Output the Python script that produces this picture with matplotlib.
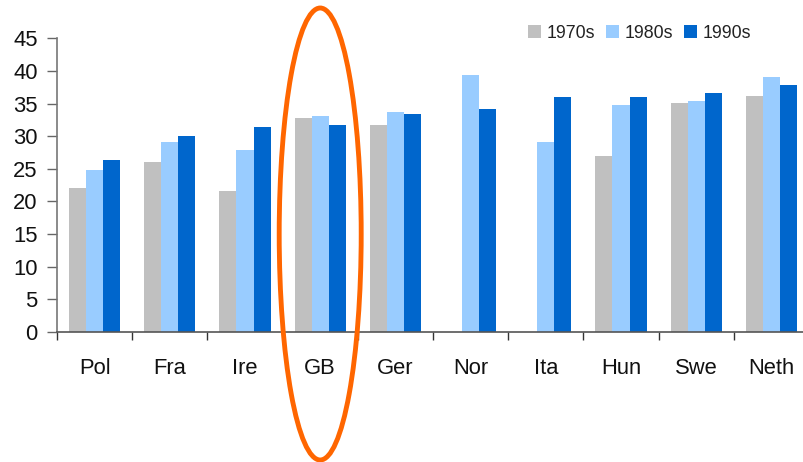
import matplotlib
matplotlib.use("Agg")
import matplotlib.pyplot as plt
import numpy as np
from matplotlib.patches import Ellipse

categories = ["Pol", "Fra", "Ire", "GB", "Ger", "Nor", "Ita", "Hun", "Swe", "Neth"]
series_names = ["1970s", "1980s", "1990s"]
v1970 = [22.1, 26.0, 21.6, 32.8, 31.7, np.nan, np.nan, 27.0, 35.1, 36.2]
v1980 = [24.8, 29.1, 27.9, 33.1, 33.7, 39.4, 29.1, 34.8, 35.4, 39.1]
v1990 = [26.3, 30.0, 31.4, 31.7, 33.4, 34.2, 36.0, 36.0, 36.6, 37.8]
yticks = [0, 5, 10, 15, 20, 25, 30, 35, 40, 45]

colors = ["#C0C0C0", "#99CCFF", "#0066CC"]
plt.rcParams['font.family'] = ['Liberation Sans', 'DejaVu Sans']

fig = plt.figure(figsize=(8.04, 4.62), dpi=100)
ax = fig.add_axes([57/804, 1-332/462, 752/804, (332-38.3)/462])

x = np.arange(len(categories))
w = 0.227
handles = []
for k, (vals, c, name) in enumerate(zip([v1970, v1980, v1990], colors, series_names)):
    b = ax.bar(x + (k-1)*w, vals, width=w, color=c, label=name, linewidth=0)
    handles.append(b)

ax.set_xlim(-0.5, len(categories)-0.5)
ax.set_ylim(0, 45)
ax.set_yticks(yticks)
ax.set_yticklabels([str(t) for t in yticks], fontsize=15.8, color="#111111")
ax.tick_params(axis='y', direction='out', length=7, width=1, color="#666666", pad=7)

ax.set_xticks(x)
ax.set_xticklabels(categories, fontsize=15.8, color="#111111")
ax.tick_params(axis='x', which='major', length=0, pad=19)
ax.set_xticks(np.arange(-0.5, len(categories), 1.0), minor=True)
ax.tick_params(axis='x', which='minor', direction='out', length=6, width=1, color="#333333")

for s in ['top', 'right']:
    ax.spines[s].set_visible(False)
ax.spines['left'].set_color("#777777")
ax.spines['bottom'].set_color("#555555")
ax.spines['left'].set_linewidth(1.2)
ax.spines['bottom'].set_linewidth(1.2)

# Ellipse around GB
gb = categories.index("GB")
px_per_unit = (332-38.3)/45
ell = Ellipse((gb, (332-234)/px_per_unit), width=82/75.2, height=452/px_per_unit,
              fill=False, edgecolor="#FF6600", linewidth=3.5, clip_on=False, zorder=5)
ax.add_patch(ell)

leg = fig.legend(handles=handles, labels=series_names, loc='center left',
                 bbox_to_anchor=(528/804, 1-33/462), ncol=3, frameon=False,
                 fontsize=12.8, handlelength=0.75, handleheight=0.75,
                 handletextpad=0.3, columnspacing=0.6, borderaxespad=0, borderpad=0)
for t in leg.get_texts():
    t.set_color("#222222")

fig.savefig("out.png", dpi=100)
